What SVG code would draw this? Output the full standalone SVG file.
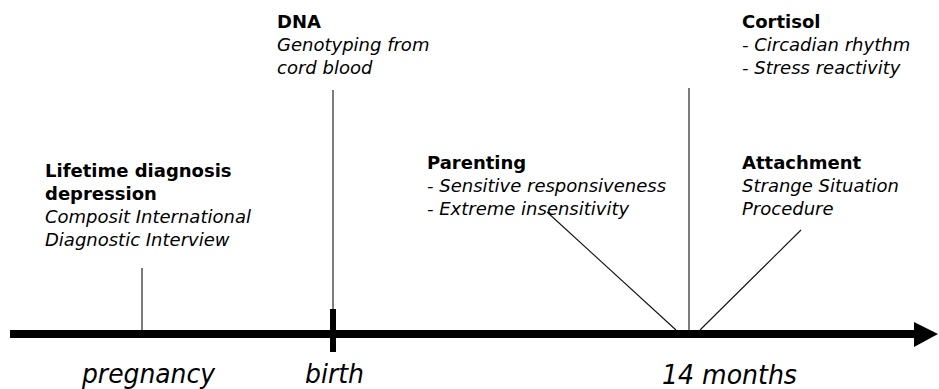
<svg xmlns="http://www.w3.org/2000/svg" width="939" height="389" viewBox="0 0 939 389">
<style>
.t{font-family:"DejaVu Sans",Verdana,sans-serif;font-size:18px;fill:#000}
.b{font-weight:bold}
.i{font-style:italic}
.ax{font-family:"DejaVu Sans",Verdana,sans-serif;font-size:27px;font-style:italic;fill:#000}
.ln{stroke:#111;stroke-width:1.1;fill:none}
</style>
<g id="connectors">
<line class="ln" x1="142" y1="268" x2="142" y2="330"/>
<line class="ln" x1="333" y1="90" x2="333" y2="330"/>
<line class="ln" x1="547" y1="212" x2="676" y2="330"/>
<line class="ln" x1="689" y1="88" x2="689" y2="330"/>
<line class="ln" x1="801" y1="230" x2="700" y2="330"/>
</g>
<g id="axis">
<rect x="10" y="330" width="906" height="8" fill="#000"/>
<polygon points="914,322 938,334 914,347" fill="#000"/>
<rect x="330" y="309" width="6" height="43" fill="#000"/>
<text class="ax" x="82" y="383" textLength="133" lengthAdjust="spacingAndGlyphs">pregnancy</text>
<text class="ax" x="305" y="383" textLength="59" lengthAdjust="spacingAndGlyphs">birth</text>
<text class="ax" x="662" y="384" textLength="135" lengthAdjust="spacingAndGlyphs">14 months</text>
</g>
<g id="depression">
<text class="t b" x="45" y="177">Lifetime diagnosis</text>
<text class="t b" x="45" y="200">depression</text>
<text class="t i" x="45" y="223">Composit International</text>
<text class="t i" x="45" y="246">Diagnostic Interview</text>
</g>
<g id="dna">
<text class="t b" x="277" y="28">DNA</text>
<text class="t i" x="277" y="51">Genotyping from</text>
<text class="t i" x="277" y="74">cord blood</text>
</g>
<g id="parenting">
<text class="t b" x="427" y="169">Parenting</text>
<text class="t i" x="427" y="192">- Sensitive responsiveness</text>
<text class="t i" x="427" y="215">- Extreme insensitivity</text>
</g>
<g id="cortisol">
<text class="t b" x="742" y="28">Cortisol</text>
<text class="t i" x="742" y="51">- Circadian rhythm</text>
<text class="t i" x="742" y="74">- Stress reactivity</text>
</g>
<g id="attachment">
<text class="t b" x="742" y="169">Attachment</text>
<text class="t i" x="742" y="192">Strange Situation</text>
<text class="t i" x="742" y="215">Procedure</text>
</g>
</svg>
